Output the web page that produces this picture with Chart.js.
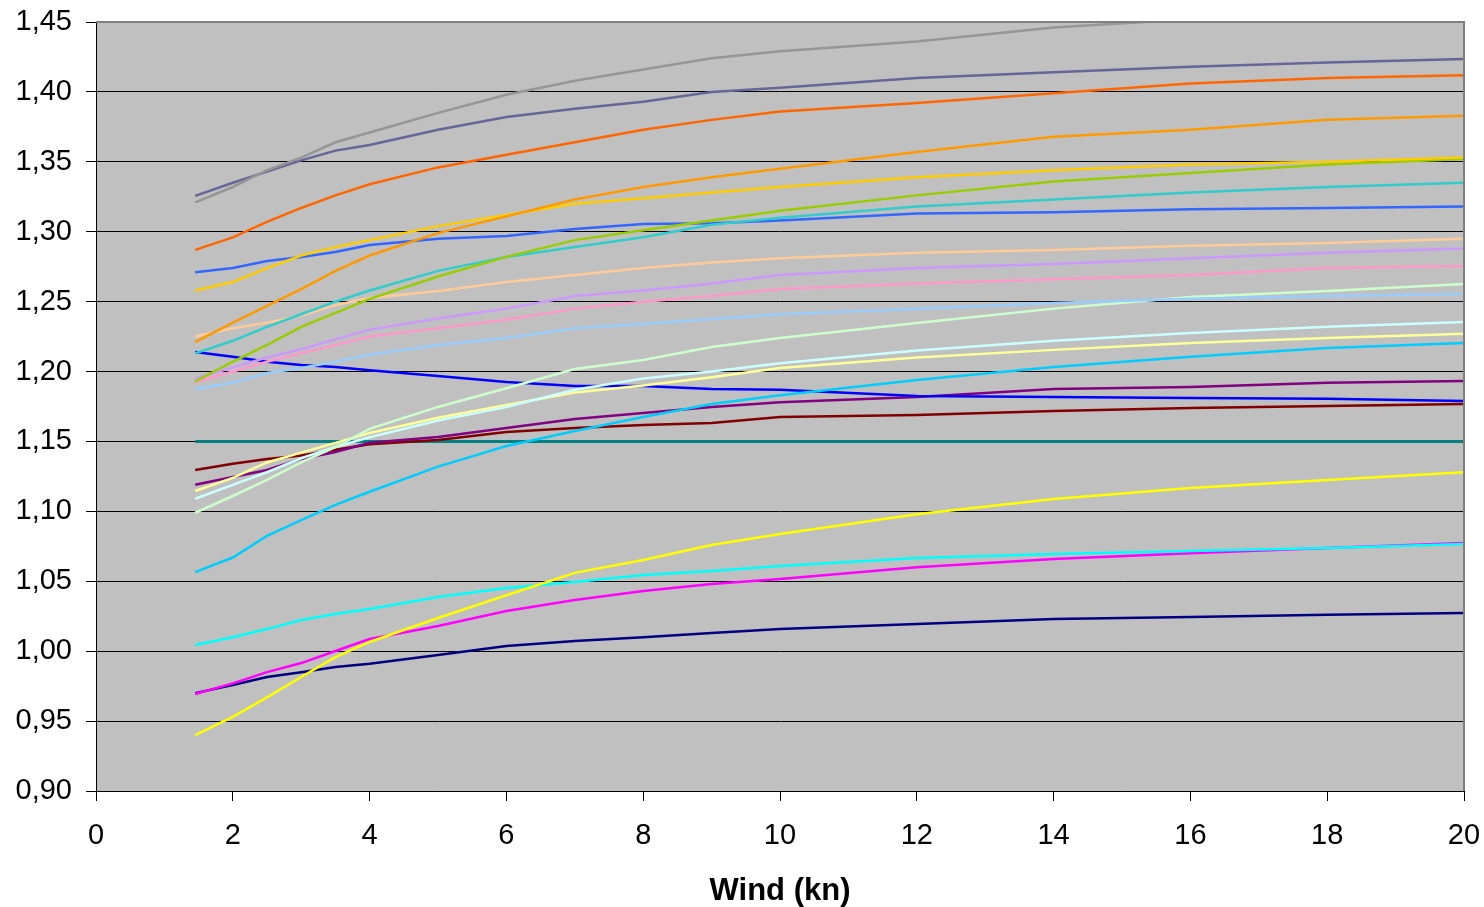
<!DOCTYPE html>
<html>
<head>
<meta charset="utf-8">
<title>Wind (kn)</title>
<script src="https://cdn.jsdelivr.net/npm/chart.js@4.4.1/dist/chart.umd.min.js"></script>
<style>
  html, body { margin: 0; padding: 0; background: #ffffff; }
  #chart { display: block; }
</style>
</head>
<body>
<canvas id="chart" width="1484" height="907"></canvas>
<script>
// Vitesse du vent (kn)
const windSpeeds = [1.45, 2, 2.5, 3, 3.5, 4, 5, 6, 7, 8, 9, 10, 12, 14, 16, 18, 20];

// Graduations des axes
const yTicks = [0.90, 0.95, 1.00, 1.05, 1.10, 1.15, 1.20, 1.25, 1.30, 1.35, 1.40, 1.45];
const xTicks = [0, 2, 4, 6, 8, 10, 12, 14, 16, 18, 20];

// Séries (une par courbe)
const gray       = [1.321, 1.332, 1.344, 1.353, 1.364, 1.371, 1.385, 1.398, 1.408, 1.416, 1.424, 1.429, 1.436, 1.446, 1.452, 1.456, 1.460];
const slate      = [1.3256, 1.335, 1.343, 1.351, 1.358, 1.362, 1.373, 1.382, 1.388, 1.393, 1.400, 1.403, 1.410, 1.414, 1.418, 1.421, 1.4235];
const darkOrange = [1.287, 1.296, 1.307, 1.317, 1.326, 1.334, 1.346, 1.355, 1.364, 1.373, 1.380, 1.386, 1.392, 1.399, 1.406, 1.410, 1.412];
const orange     = [1.221, 1.235, 1.247, 1.259, 1.272, 1.283, 1.299, 1.311, 1.323, 1.332, 1.339, 1.345, 1.357, 1.368, 1.373, 1.380, 1.383];
const gold       = [1.258, 1.264, 1.274, 1.283, 1.289, 1.294, 1.304, 1.312, 1.320, 1.324, 1.328, 1.332, 1.339, 1.344, 1.348, 1.350, 1.353];
const lime       = [1.193, 1.207, 1.219, 1.232, 1.242, 1.252, 1.268, 1.282, 1.294, 1.301, 1.308, 1.315, 1.326, 1.336, 1.342, 1.348, 1.352];
const turquoise  = [1.213, 1.222, 1.232, 1.241, 1.250, 1.258, 1.272, 1.282, 1.289, 1.296, 1.305, 1.310, 1.318, 1.323, 1.328, 1.332, 1.335];
const royalBlue  = [1.271, 1.274, 1.279, 1.282, 1.2855, 1.2905, 1.295, 1.297, 1.302, 1.3055, 1.306, 1.308, 1.313, 1.314, 1.316, 1.317, 1.318];
const peach      = [1.225, 1.231, 1.235, 1.240, 1.2475, 1.2526, 1.2576, 1.264, 1.269, 1.274, 1.278, 1.281, 1.285, 1.287, 1.290, 1.292, 1.295];
const lavender   = [1.195, 1.203, 1.210, 1.216, 1.223, 1.230, 1.238, 1.245, 1.254, 1.258, 1.263, 1.269, 1.274, 1.277, 1.281, 1.285, 1.288];
const pink       = [1.1925, 1.200, 1.207, 1.213, 1.219, 1.225, 1.231, 1.237, 1.245, 1.250, 1.254, 1.259, 1.263, 1.266, 1.269, 1.274, 1.2755];
const lightBlue  = [1.1875, 1.192, 1.199, 1.2025, 1.207, 1.212, 1.219, 1.224, 1.231, 1.234, 1.2375, 1.241, 1.245, 1.249, 1.252, 1.254, 1.2555];
const paleGreen  = [1.099, 1.111, 1.1225, 1.135, 1.146, 1.159, 1.1747, 1.188, 1.2018, 1.2083, 1.2175, 1.224, 1.2347, 1.245, 1.2533, 1.2576, 1.2626];
const lightCyan  = [1.109, 1.119, 1.128, 1.138, 1.146, 1.153, 1.165, 1.1747, 1.187, 1.195, 1.200, 1.206, 1.215, 1.222, 1.2275, 1.232, 1.2354];
const paleYellow = [1.1146, 1.124, 1.135, 1.142, 1.149, 1.156, 1.167, 1.176, 1.185, 1.190, 1.196, 1.2025, 1.210, 1.2155, 1.2205, 1.224, 1.227];
const skyBlue    = [1.0566, 1.067, 1.0824, 1.0938, 1.1046, 1.114, 1.132, 1.1467, 1.1575, 1.1675, 1.1768, 1.183, 1.194, 1.2033, 1.2105, 1.2168, 1.2205];
const blue       = [1.214, 1.2105, 1.207, 1.2047, 1.2033, 1.201, 1.1968, 1.1925, 1.1897, 1.1897, 1.1875, 1.187, 1.1825, 1.1818, 1.181, 1.1805, 1.179];
const purple     = [1.119, 1.1246, 1.1296, 1.1375, 1.1425, 1.149, 1.1532, 1.1596, 1.166, 1.1703, 1.1747, 1.178, 1.1818, 1.1875, 1.189, 1.192, 1.1933];
const maroon     = [1.1296, 1.134, 1.1375, 1.140, 1.144, 1.148, 1.151, 1.1567, 1.1596, 1.1618, 1.1632, 1.1675, 1.169, 1.1718, 1.174, 1.1754, 1.1768];
const teal       = [1.15, 1.15, 1.15, 1.15, 1.15, 1.15, 1.15, 1.15, 1.15, 1.15, 1.15, 1.15, 1.15, 1.15, 1.15, 1.15, 1.15];
const yellow     = [0.940, 0.953, 0.967, 0.9815, 0.9958, 1.0066, 1.0237, 1.040, 1.056, 1.0652, 1.076, 1.0838, 1.098, 1.1088, 1.1167, 1.1225, 1.128];
const cyan       = [1.0044, 1.010, 1.0158, 1.0223, 1.0266, 1.0302, 1.0388, 1.0452, 1.0495, 1.0545, 1.0574, 1.061, 1.0666, 1.0695, 1.0717, 1.0738, 1.0767];
const magenta    = [0.9694, 0.977, 0.985, 0.9915, 1.0001, 1.0087, 1.018, 1.0287, 1.0366, 1.043, 1.048, 1.0516, 1.060, 1.066, 1.070, 1.0738, 1.0774];
const navy       = [0.970, 0.9758, 0.9815, 0.985, 0.9887, 0.991, 0.9973, 1.0037, 1.0073, 1.010, 1.013, 1.0158, 1.0195, 1.023, 1.0245, 1.026, 1.0273];

// Couleurs de chaque courbe (palette Excel)
const series = [
  [gray, '#969696'], [slate, '#666699'], [darkOrange, '#FF6600'], [orange, '#FF9900'],
  [gold, '#FFCC00'], [lime, '#99CC00'], [turquoise, '#33CCCC'], [royalBlue, '#3366FF'],
  [peach, '#FFCC99'], [lavender, '#CC99FF'], [pink, '#FF99CC'], [lightBlue, '#99CCFF'],
  [paleGreen, '#CCFFCC'], [lightCyan, '#CCFFFF'], [paleYellow, '#FFFF99'], [skyBlue, '#00CCFF'],
  [blue, '#0000FF'], [purple, '#800080'], [maroon, '#800000'], [teal, '#008080'],
  [yellow, '#FFFF00'], [cyan, '#00FFFF'], [magenta, '#FF00FF'], [navy, '#000080']
];

const FONT = '"Liberation Sans", Arial, sans-serif';

// Fond gris de la zone de tracé + bordure haut/droite
const plotArea = {
  id: 'plotArea',
  beforeDraw(chart) {
    const { ctx, chartArea: a } = chart;
    ctx.save();
    ctx.fillStyle = '#C0C0C0';
    ctx.fillRect(a.left, a.top, a.right - a.left, a.bottom - a.top);
    ctx.restore();
  },
  afterDraw(chart) {
    const { ctx, chartArea: a } = chart;
    ctx.save();
    ctx.strokeStyle = '#808080';
    ctx.lineWidth = 2;
    ctx.beginPath();
    ctx.moveTo(a.left, a.top);
    ctx.lineTo(a.right, a.top);
    ctx.lineTo(a.right, a.bottom);
    ctx.stroke();
    ctx.restore();
  }
};

new Chart(document.getElementById('chart'), {
  type: 'line',
  data: {
    datasets: series.map(([values, color]) => ({
      data: windSpeeds.map((x, i) => ({ x: x, y: values[i] })),
      borderColor: color,
      backgroundColor: color,
      borderWidth: values === teal ? 3 : 2.5,
      pointRadius: 0,
      tension: 0,
      fill: false
    }))
  },
  options: {
    responsive: false,
    animation: false,
    layout: { padding: { top: 22, right: 20, bottom: 0, left: 0 } },
    plugins: {
      legend: { display: false },
      tooltip: { enabled: false }
    },
    scales: {
      x: {
        type: 'linear',
        min: 0,
        max: 20,
        afterFit: (scale) => {
          scale.height = 116;
          scale.paddingLeft = 0;
          scale.paddingRight = 0;
        },
        afterBuildTicks: (scale) => { scale.ticks = xTicks.map(v => ({ value: v })); },
        grid: { drawOnChartArea: false, drawTicks: true, tickLength: 10, color: '#000000' },
        border: { display: true, color: '#000000', width: 1 },
        ticks: {
          padding: 18,
          color: '#000000',
          font: { family: FONT, size: 29 },
          maxRotation: 0
        },
        title: {
          display: true,
          text: 'Wind (kn)',
          color: '#000000',
          font: { family: FONT, size: 31, weight: 'bold' },
          padding: { top: 0, bottom: -3 }
        }
      },
      y: {
        type: 'linear',
        min: 0.9,
        max: 1.45,
        afterFit: (scale) => {
          scale.width = 96;
          scale.paddingTop = 0;
          scale.paddingBottom = 0;
        },
        afterBuildTicks: (scale) => { scale.ticks = yTicks.map(v => ({ value: v })); },
        grid: { drawTicks: true, tickLength: 10, color: '#000000', lineWidth: 1 },
        border: { display: true, color: '#000000', width: 1 },
        ticks: {
          padding: 14,
          color: '#000000',
          font: { family: FONT, size: 29 },
          callback: (v) => v.toFixed(2).replace('.', ',')
        }
      }
    }
  },
  plugins: [plotArea]
});
</script>
</body>
</html>
